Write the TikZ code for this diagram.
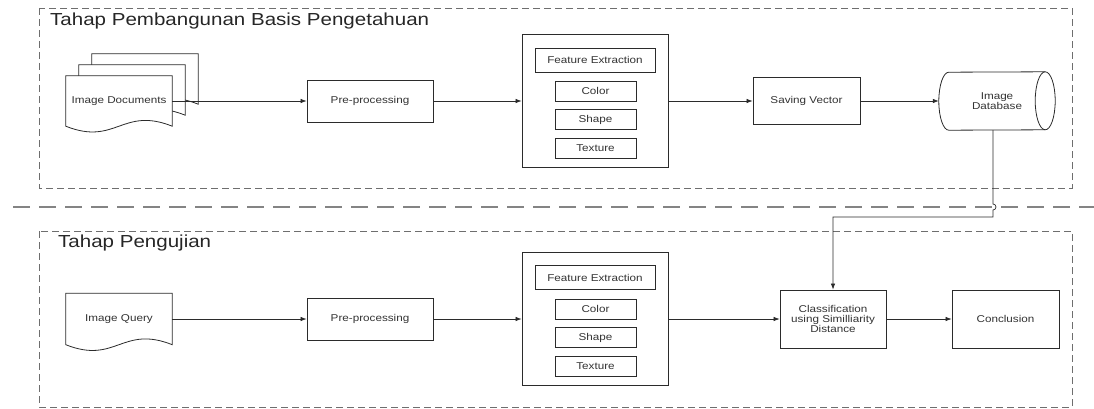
\documentclass[tikz,border=0pt]{standalone}
\usepackage{fontspec}
\setmainfont{Liberation Sans}[FakeStretch=1.18]
\usetikzlibrary{arrows.meta, backgrounds}
\definecolor{garisAbu}{HTML}{6E6E6E}
\definecolor{garisGelap}{HTML}{2B2B2B}
\definecolor{teksGelap}{HTML}{333333}
\tikzset{
  panahK/.style={-{Latex[length=6pt, width=4.5pt]}, garisGelap, line width=0.7pt},
  garisK/.style={garisGelap, line width=0.8pt},
  bingkai/.style={draw=garisAbu, line width=0.9pt, dash pattern=on 7pt off 4pt},
  pemisah/.style={draw=garisAbu!85, line width=1.1pt, dash pattern=on 17pt off 9pt},
  boxProses/.style={rectangle, draw=garisGelap, line width=0.8pt, fill=white,
                    align=center, font=\fontsize{9.9}{10}\selectfont, text=teksGelap,
                    inner sep=0pt},
  boxFitur/.style={boxProses, minimum width=146pt, minimum height=133pt},
  boxEkstrak/.style={boxProses, minimum width=120pt, minimum height=24pt},
  boxSub/.style={boxProses, minimum width=81pt, minimum height=20pt},
  boxDok/.style={rectangle, inner sep=0pt, align=center, text=teksGelap,
                 font=\fontsize{9.9}{10}\selectfont, minimum width=106pt},
  boxDB/.style={rectangle, inner sep=0pt, minimum width=116pt, minimum height=58pt,
                align=center, text=teksGelap, font=\fontsize{9.9}{10}\selectfont},
  judul/.style={font=\fontsize{17.4}{20}\selectfont, anchor=base west,
                inner sep=0pt, text=black!85},
}
% bentuk dokumen (alas bergelombang) di sekitar sebuah node
\newcommand{\dokumen}[2][0,0]{%
  \draw[garisK, fill=white] ([shift={(#1)}]#2.south west) -- ([shift={(#1)}]#2.north west)
    -- ([shift={(#1)}]#2.north east) -- ([shift={(#1)}]#2.south east)
    .. controls +(-50,-20) and +(50,20) .. ([shift={(#1)}]#2.south west) -- cycle;}
% tabung mendatar di sekitar sebuah node
\newcommand{\tabung}[1]{%
  \draw[garisK] ([xshift=10pt]#1.south west)
      arc[start angle=270, end angle=90, x radius=10pt, y radius=29pt]
      -- ([xshift=-10pt]#1.north east)
      arc[start angle=90, end angle=-90, x radius=10pt, y radius=29pt] -- cycle;
  \draw[garisK] ([xshift=-10pt]#1.north east)
      arc[start angle=90, end angle=270, x radius=10pt, y radius=29pt];}

\begin{document}
\begin{tikzpicture}[x=1pt, y=-1pt]
    \useasboundingbox (0,0) rectangle (1094,409);

    % tahap pembangunan basis pengetahuan
    \draw[bingkai] (39,8) rectangle (1072,188);
    \node[judul] (judul1) at (50,26) {Tahap Pembangunan Basis Pengetahuan};
    \node[boxDok, minimum height=50pt] (dok1) at (119,101) {Image Documents};
    \node[boxProses, minimum width=126pt, minimum height=42pt] (pre1) at (370,101) {Pre-processing};
    \node[boxFitur] (fit1) at (595,101) {};
    \node[boxEkstrak] (ekstr1) at (595,60) {Feature Extraction};
    \node[boxSub] (warna1) at (595.5,91) {Color};
    \node[boxSub] (bentuk1) at (595.5,119.5) {Shape};
    \node[boxSub] (tekstur1) at (595.5,148) {Texture};
    \node[boxProses, minimum width=107pt, minimum height=47pt] (simpan) at (806.5,101) {Saving Vector};
    \node[boxDB] (db) at (997,101) {Image\\Database};
    \tabung{db}

    \draw[panahK] (dok1.east) -- (pre1.west);
    \draw[panahK] (pre1.east) -- (fit1.west);
    \draw[panahK] (fit1.east) -- (simpan.west);
    \draw[panahK] (simpan.east) -- (db.west);

    % garis pemisah
    \coordinate (sepKiri) at (13,207);
    \coordinate (sepKanan) at (1094,207);
    \draw[pemisah] (sepKiri) -- (sepKanan);

    % tahap pengujian
    \draw[bingkai] (39,231) rectangle (1072,407);
    \node[judul] (judul2) at (58,247) {Tahap Pengujian};
    \node[boxDok, minimum height=51pt] (dok2) at (119,319) {Image Query};
    \node[boxProses, minimum width=126pt, minimum height=42pt] (pre2) at (370,319) {Pre-processing};
    \node[boxFitur] (fit2) at (595,319) {};
    \node[boxEkstrak] (ekstr2) at (595,277.5) {Feature Extraction};
    \node[boxSub] (warna2) at (595.5,309) {Color};
    \node[boxSub] (bentuk2) at (595.5,337.5) {Shape};
    \node[boxSub] (tekstur2) at (595.5,366) {Texture};
    \node[boxProses, minimum width=106pt, minimum height=58pt] (klas) at (833,319)
        {Classification\\using Similliarity\\Distance};
    \node[boxProses, minimum width=107pt, minimum height=58pt] (simpul) at (1005.5,319) {Conclusion};

    \draw[panahK] (dok2.east) -- (pre2.west);
    \draw[panahK] (pre2.east) -- (fit2.west);
    \draw[panahK] (fit2.east) -- (klas.west);
    \draw[panahK] (klas.east) -- (simpul.west);

    % dari basis data ke klasifikasi, melompati garis pemisah
    \coordinate (dbBawah) at ([xshift=-4pt]db.south);
    \draw[panahK] (dbBawah) -- ([yshift=3pt]dbBawah |- sepKanan)
        arc[start angle=90, end angle=-90, radius=3pt]
        -- ([yshift=-10pt]dbBawah |- sepKanan) -| (klas.north);

    \begin{pgfonlayer}{background}
      \dokumen[26,-22]{dok1}
      \dokumen[13,-11]{dok1}
      \dokumen{dok1}
      \dokumen{dok2}
    \end{pgfonlayer}
\end{tikzpicture}
\end{document}
